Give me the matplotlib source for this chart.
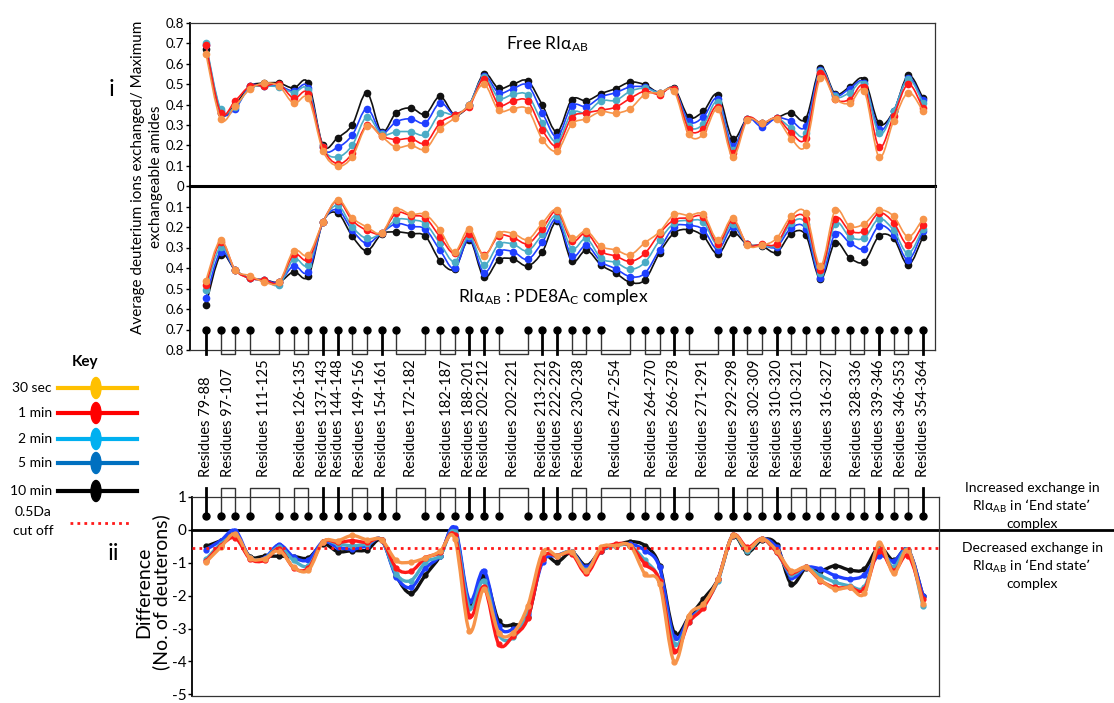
import numpy as np
import matplotlib
matplotlib.use('Agg')
import matplotlib.pyplot as plt
from matplotlib.path import Path
from matplotlib.patches import PathPatch, Ellipse
import matplotlib.transforms as mtransforms

plt.rcParams['font.family'] = ['Lato', 'DejaVu Sans']
plt.rcParams['axes.unicode_minus'] = False

# time points (plot order: black first, orange last)
times = ['10 min', '5 min', '2 min', '1 min', '30 sec']
line_colors = ['#111111', '#1f3fff', '#4bacc6', '#ff1a1a', '#f7944a']

# free RIa_AB: deuterium uptake / max exchangeable amides
free_10min = [0.67, 0.36, 0.40, 0.49, 0.505, 0.505, 0.48, 0.505, 0.20, 0.237, 0.30, 0.457, 0.266, 0.36, 0.383, 0.352, 0.44, 0.35, 0.40, 0.55,
              0.48, 0.50, 0.515, 0.396, 0.266, 0.424, 0.418, 0.453, 0.478, 0.51, 0.497, 0.458, 0.48, 0.339, 0.367, 0.449, 0.233, 0.331, 0.307, 0.334,
              0.36, 0.331, 0.58, 0.453, 0.486, 0.522, 0.307, 0.367, 0.543, 0.432]
free_5min = [0.69, 0.37, 0.38, 0.49, 0.49, 0.49, 0.465, 0.483, 0.19, 0.19, 0.25, 0.38, 0.262, 0.315, 0.33, 0.31, 0.408, 0.35, 0.40, 0.54,
             0.458, 0.478, 0.494, 0.359, 0.241, 0.393, 0.39, 0.437, 0.458, 0.486, 0.486, 0.458, 0.475, 0.318, 0.339, 0.429, 0.197, 0.331, 0.29, 0.334,
             0.32, 0.295, 0.571, 0.445, 0.478, 0.506, 0.279, 0.367, 0.53, 0.42]
free_2min = [0.70, 0.377, 0.39, 0.48, 0.49, 0.486, 0.458, 0.47, 0.19, 0.143, 0.20, 0.34, 0.253, 0.266, 0.266, 0.253, 0.356, 0.35, 0.40, 0.535,
             0.432, 0.45, 0.445, 0.31, 0.217, 0.359, 0.359, 0.418, 0.42, 0.465, 0.48, 0.458, 0.475, 0.295, 0.303, 0.413, 0.176, 0.331, 0.307, 0.334,
             0.285, 0.258, 0.564, 0.44, 0.458, 0.503, 0.258, 0.367, 0.525, 0.408]
free_1min = [0.69, 0.36, 0.418, 0.49, 0.49, 0.50, 0.43, 0.453, 0.19, 0.109, 0.16, 0.30, 0.246, 0.228, 0.233, 0.21, 0.31, 0.35, 0.39, 0.527,
             0.40, 0.418, 0.416, 0.274, 0.197, 0.336, 0.359, 0.372, 0.387, 0.43, 0.465, 0.449, 0.475, 0.279, 0.282, 0.39, 0.16, 0.331, 0.307, 0.334,
             0.261, 0.237, 0.555, 0.429, 0.424, 0.486, 0.192, 0.344, 0.50, 0.383]
free_30s = [0.65, 0.33, 0.393, 0.475, 0.505, 0.49, 0.405, 0.43, 0.173, 0.098, 0.143, 0.294, 0.243, 0.19, 0.20, 0.181, 0.28, 0.334, 0.40, 0.50,
            0.372, 0.38, 0.375, 0.228, 0.173, 0.303, 0.33, 0.365, 0.357, 0.38, 0.449, 0.458, 0.465, 0.253, 0.253, 0.377, 0.143, 0.323, 0.307, 0.33,
            0.233, 0.20, 0.532, 0.429, 0.405, 0.465, 0.143, 0.32, 0.458, 0.369]

# RIa_AB : PDE8A_C complex
cx_10min = [0.579, 0.337, 0.41, 0.45, 0.458, 0.469, 0.418, 0.439, 0.176, 0.132, 0.245, 0.316, 0.235, 0.224, 0.232, 0.245, 0.365, 0.405, 0.261, 0.445,
            0.361, 0.356, 0.39, 0.321, 0.173, 0.366, 0.313, 0.385, 0.425, 0.47, 0.458, 0.326, 0.229, 0.213, 0.245, 0.332, 0.229, 0.285, 0.292, 0.324,
            0.232, 0.24, 0.455, 0.276, 0.35, 0.369, 0.245, 0.256, 0.385, 0.248]
cx_5min = [0.547, 0.321, 0.41, 0.45, 0.458, 0.469, 0.389, 0.418, 0.176, 0.116, 0.216, 0.28, 0.229, 0.184, 0.197, 0.211, 0.313, 0.402, 0.255, 0.423,
           0.321, 0.321, 0.358, 0.273, 0.16, 0.342, 0.289, 0.369, 0.404, 0.442, 0.426, 0.31, 0.2, 0.192, 0.213, 0.31, 0.2, 0.285, 0.289, 0.297,
           0.205, 0.211, 0.447, 0.232, 0.277, 0.305, 0.195, 0.237, 0.361, 0.219]
cx_2min = [0.506, 0.297, 0.41, 0.45, 0.458, 0.482, 0.355, 0.385, 0.176, 0.095, 0.2, 0.256, 0.229, 0.165, 0.165, 0.184, 0.28, 0.369, 0.245, 0.385,
           0.285, 0.284, 0.316, 0.235, 0.144, 0.305, 0.256, 0.353, 0.373, 0.406, 0.373, 0.265, 0.181, 0.168, 0.176, 0.289, 0.184, 0.285, 0.289, 0.289,
           0.181, 0.184, 0.426, 0.184, 0.248, 0.253, 0.16, 0.216, 0.329, 0.208]
cx_1min = [0.482, 0.273, 0.41, 0.45, 0.458, 0.469, 0.334, 0.358, 0.176, 0.071, 0.168, 0.216, 0.229, 0.132, 0.144, 0.156, 0.248, 0.329, 0.232, 0.337,
           0.244, 0.252, 0.281, 0.208, 0.123, 0.268, 0.229, 0.318, 0.342, 0.368, 0.329, 0.232, 0.165, 0.156, 0.152, 0.281, 0.165, 0.285, 0.285, 0.281,
           0.165, 0.16, 0.41, 0.16, 0.219, 0.219, 0.132, 0.179, 0.289, 0.189]
cx_30s = [0.461, 0.265, 0.41, 0.437, 0.469, 0.469, 0.316, 0.337, 0.176, 0.066, 0.155, 0.2, 0.229, 0.116, 0.139, 0.139, 0.216, 0.321, 0.208, 0.342,
          0.232, 0.232, 0.261, 0.181, 0.116, 0.253, 0.219, 0.294, 0.312, 0.335, 0.277, 0.224, 0.139, 0.144, 0.139, 0.265, 0.156, 0.288, 0.289, 0.256,
          0.148, 0.132, 0.39, 0.119, 0.197, 0.184, 0.119, 0.147, 0.248, 0.16]

# difference (No. of deuterons), complex minus free
d_10min = [-0.5, -0.33, -0.14, -0.81, -0.8, -0.8, -0.81, -0.85, -0.43, -0.66, -0.63, -0.61, -0.32, -1.39, -1.93, -1.37, -0.8, 0.0, -2.25, -1.39,
           -2.76, -2.88, -2.66, -0.88, -0.98, -0.68, -1.09, -0.63, -0.48, -0.36, -0.48, -1.09, -3.12, -2.66, -2.1, -1.49, -0.19, -0.68, -0.3, -0.45,
           -1.64, -1.16, -1.24, -1.09, -1.22, -1.19, -0.53, -0.93, -0.61, -2.0]
d_5min = [-0.6, -0.33, -0.02, -0.85, -0.85, -0.45, -0.83, -0.91, -0.36, -0.53, -0.58, -0.48, -0.3, -1.42, -1.75, -1.16, -0.78, 0.06, -2.15, -1.24,
          -2.91, -3.02, -2.56, -0.98, -0.78, -0.68, -1.14, -0.63, -0.48, -0.43, -0.63, -1.14, -3.27, -2.71, -2.3, -1.49, -0.17, -0.58, -0.27, -0.53,
          -1.44, -1.14, -1.19, -1.39, -1.49, -1.37, -0.78, -0.95, -0.61, -2.0]
d_2min = [-0.9, -0.43, -0.22, -0.85, -0.87, -0.53, -0.93, -1.09, -0.36, -0.43, -0.48, -0.43, -0.3, -1.34, -1.54, -0.98, -0.78, -0.07, -2.36, -1.54,
          -3.17, -3.27, -2.51, -0.88, -0.78, -0.68, -1.22, -0.63, -0.48, -0.48, -0.93, -1.54, -3.47, -2.81, -2.3, -1.54, -0.17, -0.63, -0.27, -0.68,
          -1.34, -1.14, -1.39, -1.59, -1.7, -1.73, -0.58, -1.14, -0.61, -2.3]
d_1min = [-0.95, -0.48, -0.24, -0.88, -0.93, -0.58, -1.16, -1.16, -0.36, -0.38, -0.33, -0.38, -0.3, -1.16, -1.26, -0.85, -0.68, -0.17, -2.61, -1.75,
          -3.47, -3.22, -2.68, -0.88, -0.78, -0.73, -1.32, -0.63, -0.43, -0.48, -1.04, -1.54, -3.68, -2.81, -2.36, -1.49, -0.17, -0.53, -0.27, -0.68,
          -1.29, -1.14, -1.54, -1.75, -1.75, -1.8, -0.63, -1.24, -0.78, -2.1]
d_30s = [-0.98, -0.53, -0.12, -0.85, -0.87, -0.63, -1.14, -1.22, -0.36, -0.33, -0.17, -0.3, -0.3, -0.93, -0.98, -0.85, -0.65, -0.27, -3.07, -1.8,
         -3.12, -3.12, -2.3, -0.68, -0.78, -0.68, -1.24, -0.53, -0.48, -0.48, -1.34, -1.64, -4.01, -2.61, -2.25, -1.49, -0.17, -0.58, -0.27, -0.63,
         -1.24, -1.14, -1.52, -1.8, -1.75, -1.93, -0.41, -1.32, -0.61, -2.25]

cutoff = -0.55

# peptide labels and the data points they point at
peptides = ['79-88', '97-107', '111-125', '126-135', '137-143', '144-148', '149-156', '154-161', '172-182', '182-187',
            '188-201', '202-212', '202-221', '213-221', '222-229', '230-238', '247-254', '264-270', '266-278', '271-291',
            '292-298', '302-309', '310-320', '310-321', '316-327', '328-336', '339-346', '346-353', '354-364']
peptide_points = [[0], [1, 2], [3, 5], [6, 7], [8], [9], [10, 11], [12], [13, 15], [16, 17],
                  [18], [19], [20, 22], [23], [24], [25, 26], [27, 29], [30, 31], [32], [33, 35],
                  [36], [37, 38], [39], [40, 41], [42, 43], [44, 45], [46], [47, 48], [49]]

free = [free_10min, free_5min, free_2min, free_1min, free_30s]
cplx = [cx_10min, cx_5min, cx_2min, cx_1min, cx_30s]
diff = [d_10min, d_5min, d_2min, d_1min, d_30s]
x = np.arange(len(free_10min))

W, H = 1114, 703
fig = plt.figure(figsize=(W / 100, H / 100), dpi=100)


def fx(px):
    return px / W


def fy(py):
    return 1 - py / H


def smooth(ax, xs, ys, color, lw, z):
    # Catmull-Rom -> cubic bezier, like Excel's smoothed lines
    p = np.column_stack([xs, ys]).astype(float)
    verts = [p[0]]
    codes = [Path.MOVETO]
    n = len(p)
    for i in range(n - 1):
        p0 = p[max(i - 1, 0)]
        p1 = p[i]
        p2 = p[i + 1]
        p3 = p[min(i + 2, n - 1)]
        verts += [p1 + (p2 - p0) / 6, p2 - (p3 - p1) / 6, p2]
        codes += [Path.CURVE4] * 3
    ax.add_patch(PathPatch(Path(verts, codes), fill=False, edgecolor=color, lw=lw, zorder=z, capstyle='round'))


ax1 = fig.add_axes([fx(190), fy(186), fx(935) - fx(190), (186 - 23) / H])
ax2 = fig.add_axes([fx(190), fy(350), fx(935) - fx(190), (350 - 186) / H])
ax3 = fig.add_axes([fx(192), fy(696), fx(939) - fx(192), (696 - 497) / H])

for k, (col, ys) in enumerate(zip(line_colors, free)):
    smooth(ax1, x, ys, col, 1.2, 2 + k)
    ax1.plot(x, ys, 'o', color=col, ms=4.5, zorder=2 + k)
for k, (col, ys) in enumerate(zip(line_colors, cplx)):
    smooth(ax2, x, ys, col, 1.2, 2 + k)
    ax2.plot(x, ys, 'o', color=col, ms=4.5, zorder=2 + k)
for k, (col, ys) in enumerate(zip(line_colors, diff)):
    smooth(ax3, x, ys, col, 2.4, 2 + k)
    ax3.plot(x, ys, 'o', color=col, ms=3.5, zorder=2 + k)

ax1.set_xlim(-1.09, 49.83)
ax2.set_xlim(-1.09, 49.83)
ax3.set_xlim(-0.96, 50.1)
ax1.set_ylim(0, 0.8)
ax2.set_ylim(0.8, 0)
ax3.set_ylim(-5.05, 1)

ax1.set_yticks([0, 0.1, 0.2, 0.3, 0.4, 0.5, 0.6, 0.7, 0.8])
ax1.set_yticklabels(['0', '0.1', '0.2', '0.3', '0.4', '0.5', '0.6', '0.7', '0.8'])
ax2.set_yticks([0.1, 0.2, 0.3, 0.4, 0.5, 0.6, 0.7, 0.8])
ax2.set_yticklabels(['0.1', '0.2', '0.3', '0.4', '0.5', '0.6', '0.7', '0.8'])
ax3.set_yticks([1, 0, -1, -2, -3, -4, -5])
ax3.set_yticklabels(['1', '0', '-1', '-2', '-3', '-4', '-5'])

for ax in (ax1, ax2, ax3):
    ax.set_xticks([])
    ax.tick_params(axis='y', direction='out', length=3, width=1, pad=1, labelsize=9.5)
    for s in ax.spines.values():
        s.set_linewidth(0.9)
        s.set_color('#333333')
    ax.spines['left'].set_color('black')
    ax.spines['left'].set_linewidth(1.3)
    ax.patch.set_visible(False)
ax3.tick_params(axis='y', labelsize=11)
ax1.spines['bottom'].set_linewidth(2.2)
ax1.spines['bottom'].set_color('black')
ax2.spines['top'].set_visible(False)

# zero line and cut-off in the difference plot
ax3.axhline(0, xmin=0, xmax=(W - 192) / (939 - 192), color='black', lw=2, clip_on=False, zorder=1)
ax3.axhline(cutoff, color='#ff1a1a', lw=2, ls=(0, (1, 1.5)), zorder=9)

# connectors from the peptide labels to the points
for pts in peptide_points:
    if len(pts) == 1:
        p = pts[0]
        ax2.plot([p, p], [0.70, 0.82], color='black', lw=2, clip_on=False, zorder=10)
        ax3.plot([p, p], [0.43, 1.28], color='black', lw=2, clip_on=False, zorder=10)
    else:
        a, b = pts
        ax2.plot([a, a, b, b], [0.70, 0.82, 0.82, 0.70], color='#333333', lw=1, clip_on=False, zorder=10)
        ax3.plot([a, a, b, b], [0.43, 1.28, 1.28, 0.43], color='#333333', lw=1, clip_on=False, zorder=10)
    ax2.plot(pts, [0.70] * len(pts), 'o', color='black', ms=5, clip_on=False, zorder=11)
    ax3.plot(pts, [0.43] * len(pts), 'o', color='black', ms=5, clip_on=False, zorder=11)

lab_tr = mtransforms.blended_transform_factory(ax2.transData, fig.transFigure)
for name, pts in zip(peptides, peptide_points):
    fig.text(np.mean(pts), fy(477), 'Residues ' + name, rotation=90, ha='center', va='bottom',
             fontsize=10.5, transform=lab_tr)

# panel texts
fig.text(fx(547), fy(44), r'Free RI$\mathregular{\alpha_{AB}}$', ha='center', va='center', fontsize=12.5)
fig.text(fx(553), fy(297), r'RI$\mathregular{\alpha_{AB}}$ : PDE8A$\mathregular{_C}$ complex', ha='center', va='center', fontsize=12.5)
fig.text(fx(112), fy(90), 'i', ha='center', va='center', fontsize=17)
fig.text(fx(113), fy(553), 'ii', ha='center', va='center', fontsize=17)
fig.text(fx(147), fy(177), 'Average deuterium ions exchanged/ Maximum\nexchangeable amides', rotation=90,
         ha='center', va='center', fontsize=11, linespacing=1.35)
fig.text(fx(153), fy(592), 'Difference\n(No. of deuterons)', rotation=90, ha='center', va='center',
         fontsize=14, linespacing=1.0)

fig.text(fx(1032), fy(506), 'Increased exchange in\nRI$\\mathregular{\\alpha_{AB}}$ in \u2018End state\u2019\ncomplex',
         ha='center', va='center', fontsize=10, linespacing=1.3)
fig.text(fx(1032), fy(566), 'Decreased exchange in\nRI$\\mathregular{\\alpha_{AB}}$ in \u2018End state\u2019\ncomplex',
         ha='center', va='center', fontsize=10, linespacing=1.3)

# key
key_colors = ['#ffc000', '#ff0000', '#00b0f0', '#0070c0', '#000000']
key_labels = ['30 sec', '1 min', '2 min', '5 min', '10 min']
key_rows = [388, 413, 439, 463, 491]
fig.text(fx(85), fy(362), 'Key', ha='center', va='center', fontsize=11, fontweight='bold')
for lab, col, row in zip(key_labels, key_colors, key_rows):
    fig.add_artist(plt.Line2D([fx(58), fx(137)], [fy(row), fy(row)], color=col, lw=3))
    fig.add_artist(Ellipse((fx(96), fy(row)), 10 / W, 21 / H, color=col))
    fig.text(fx(52), fy(row), lab, ha='right', va='center', fontsize=10)
fig.text(fx(33), fy(512), '0.5Da', ha='center', va='center', fontsize=10)
fig.text(fx(33), fy(531), 'cut off', ha='center', va='center', fontsize=10)
fig.add_artist(plt.Line2D([fx(70), fx(130)], [fy(523), fy(523)], color='#ff1a1a', lw=2, ls=(0, (1, 1.5))))

fig.savefig('out.png', dpi=100)
